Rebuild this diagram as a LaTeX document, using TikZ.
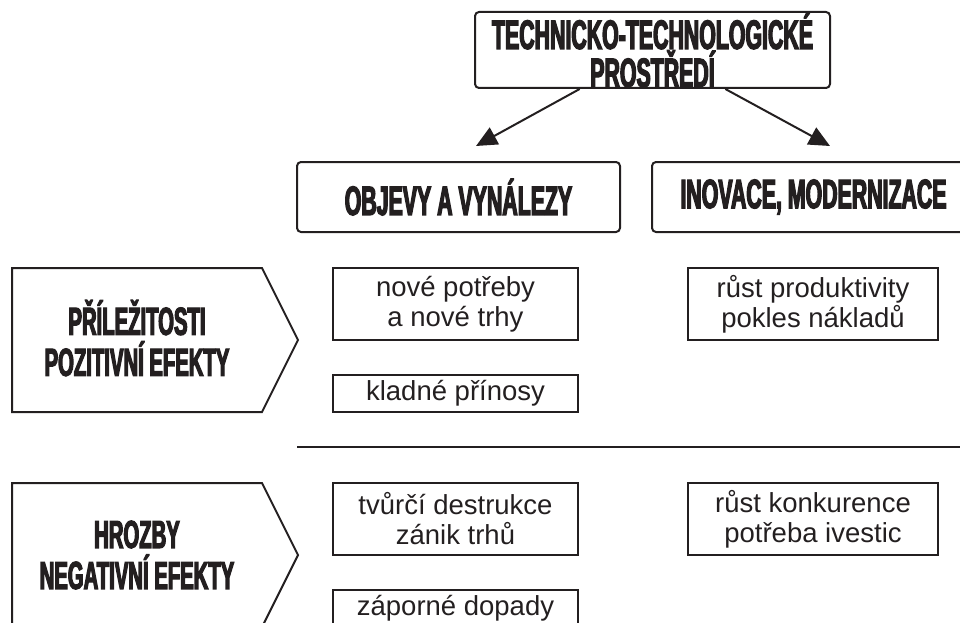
\documentclass[tikz,border=0pt]{standalone}
\usepackage{fontspec}
\setmainfont{Liberation Sans}
\newfontfamily\headfont[FakeStretch=0.52,BoldFeatures={FakeBold=3}]{Liberation Sans}
\usetikzlibrary{arrows.meta,calc}
\definecolor{ink}{RGB}{35,31,32}
\tikzset{
  frame/.style={draw=ink, line width=2pt},
  headbox/.style={frame, rounded corners=4pt, inner sep=0pt, align=center,
    text=ink, font=\headfont\bfseries\fontsize{41}{35}\selectfont},
  infobox/.style={frame, inner sep=0pt, minimum width=245pt, align=center,
    text=ink, font=\fontsize{27.5}{30}\selectfont},
  sidelabel/.style={inner sep=0pt, align=center, text=ink,
    font=\headfont\bfseries\fontsize{39}{41}\selectfont},
  pointer/.style={draw=ink, line width=2pt, -{Triangle[length=21pt,width=19pt]}},
}
\begin{document}
\begin{tikzpicture}[x=1pt,y=-1pt]
\useasboundingbox (0,0) rectangle (960,623);
\clip (0,0) rectangle (960,623);

% source of both branches
\node[headbox, minimum width=355pt, minimum height=76pt] (env) at (652.5,50)
  {TECHNICKO-TECHNOLOGICKÉ\\PROSTŘEDÍ};

% the two branches
\node[headbox, minimum width=323pt, minimum height=70pt] (disc) at (458.5,197)
  {OBJEVY A VYNÁLEZY};
\node[headbox, minimum width=323pt, minimum height=70pt] (innov) at (813.5,197)
  {INOVACE, MODERNIZACE};

\coordinate (discin) at (476,146);
\coordinate (innovin) at (830,146);
\draw[pointer] ($(env.south west)!0.296!(env.south east)$) -- (discin);
\draw[pointer] ($(env.south west)!0.704!(env.south east)$) -- (innovin);

% row labels drawn as pentagon pointers
\draw[frame] (12,268) -- (262,268) -- (298,340) -- (262,412) -- (12,412) -- cycle;
\node[sidelabel] (chance) at (137,338) {PŘÍLEŽITOSTI\\POZITIVNÍ EFEKTY};
\draw[frame] (12,483) -- (262,483) -- (298,555) -- (262,627) -- (12,627) -- cycle;
\node[sidelabel] (threat) at (137,555) {HROZBY\\NEGATIVNÍ EFEKTY};

% positive effects
\node[infobox, minimum height=72pt] (needs) at (455.5,304) {nové potřeby\\a nové trhy};
\node[infobox, minimum height=37pt] (benefit) at (455.5,393.5) {kladné přínosy};
\node[infobox, minimum width=250pt, minimum height=72pt] (prod) at (813,304)
  {růst produktivity\\pokles nákladů};

% divider between the two rows
\coordinate (divl) at (297,447);
\coordinate (divr) at (960,447);
\draw[draw=ink, line width=2.5pt] (divl) -- (divr);

% negative effects
\node[infobox, minimum height=72pt] (destr) at (455.5,519) {tvůrčí destrukce\\zánik trhů};
\node[infobox, minimum width=250pt, minimum height=72pt] (compet) at (813,519)
  {růst konkurence\\potřeba ivestic};
\node[infobox, minimum height=37pt] (harm) at (455.5,608.5) {záporné dopady};
\end{tikzpicture}
\end{document}
